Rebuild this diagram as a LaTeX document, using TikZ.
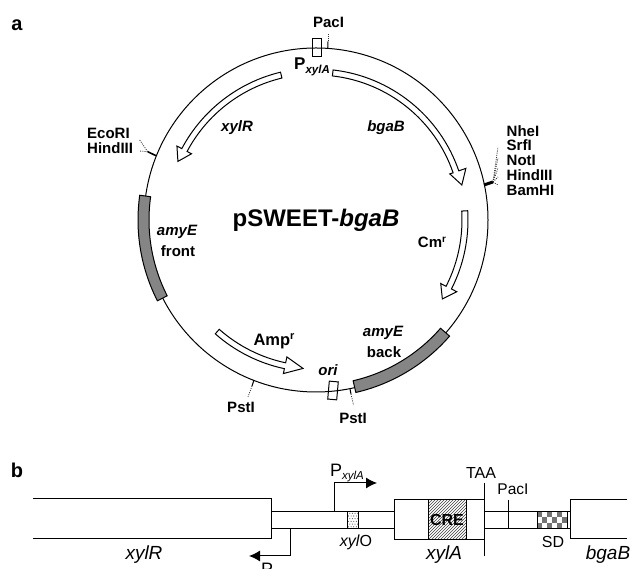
\documentclass[tikz,border=0pt]{standalone}
\usepackage{fontspec}
\setmainfont{Liberation Sans}
\usetikzlibrary{patterns,calc,arrows.meta}
\tikzset{
  x=1pt,y=1pt,
  ln/.style={line width=1pt,black},
  bl/.style={font=\bfseries\fontsize{15}{17}\selectfont,inner sep=0,text=black},
  bi/.style={font=\bfseries\itshape\fontsize{15}{17}\selectfont,inner sep=0,text=black},
  rg/.style={font=\fontsize{16}{18}\selectfont,inner sep=0,text=black},
  dot/.style={line width=0.8pt,dash pattern=on 1pt off 1.2pt,black!80},
  gene/.style={fill=black!48,draw=black,line width=1pt},
  arrowbox/.style={draw=black,fill=white,line width=1pt,line join=miter},
  tip/.style={-{Latex[length=11pt,width=11pt]},line width=1pt}
}
% inner r, outer r, start, end, head angle, wing in, wing out, tip r, tip angle
\newcommand{\genearrow}[9]{%
 \draw[arrowbox] (C)++(#3:#1) arc[start angle=#3,end angle=#5,radius=#1]
   -- ($(C)+(#5:#6)$) -- ($(C)+(#9:#8)$) -- ($(C)+(#5:#7)$) -- ($(C)+(#5:#2)$)
   arc[start angle=#5,end angle=#3,radius=#2] -- cycle;}
\begin{document}
\begin{tikzpicture}
\useasboundingbox (0,0) rectangle (634,569);
\clip (0,0) rectangle (634,569);
\coordinate (C) at (316,349);
\node[font=\bfseries\fontsize{20}{22}\selectfont,inner sep=0] (la) at (17,544) {a};
\node[font=\bfseries\fontsize{20}{22}\selectfont,inner sep=0] (lb) at (17,99) {b};
% plasmid circle
\draw[ln] (C) circle[radius=172];
% amyE segments
\draw[gene] (C)++(172:167) arc[start angle=172,end angle=207,radius=167] -- ($(C)+(207:178)$) arc[start angle=207,end angle=172,radius=178] -- cycle;
\draw[gene] (C)++(-77:165) arc[start angle=-77,end angle=-41,radius=165] -- ($(C)+(-41:177)$) arc[start angle=-41,end angle=-77,radius=177] -- cycle;
% promoter and ori boxes
\draw[ln] (312,512) rectangle (321,530);
\draw[ln,rotate around={-5:(333,178.5)}] (328.5,169.5) rectangle (337.5,187.5);
% gene arrows
\genearrow{145}{151}{83.5}{19}{19}{141.5}{158.5}{150}{13.5}
\genearrow{146}{152}{3.5}{-27}{-27}{140}{158}{149}{-32}
\genearrow{146}{152}{103.5}{152}{152}{141}{157.5}{150}{157}
\genearrow{146}{152}{228.5}{258}{258}{140}{157}{149}{265}
% ticks
\coordinate (t1a) at (327.7,520.3); \coordinate (t1b) at (328,527.5); \coordinate (t1c) at (328,535);
\draw[ln] (t1a)--(t1b); \draw[dot] (t1b)--(t1c);
\coordinate (t2a) at (156,413.3); \coordinate (t2b) at (147.7,417.3);
\draw[line width=1.6pt] (t2a)--(t2b);
\draw[dot] (t2b)--(139,430); \draw[dot] (t2b)--(139,418);
\coordinate (t3a) at (484,384); \coordinate (t3b) at (493,387);
\draw[line width=3pt] (t3a)--(t3b);
\foreach \yy in {422,411,401,392,384} \draw[dot] (t3b)--(498,\yy);
\coordinate (t4a) at (254,189); \coordinate (t4b) at (252,183); \coordinate (t4c) at (248,172);
\draw[ln] (t4a)--(t4b); \draw[dot] (t4b)--(t4c);
\coordinate (t5a) at (350,180); \coordinate (t5b) at (351,175); \coordinate (t5c) at (353.5,164);
\draw[ln] (t5a)--(t5b); \draw[dot] (t5b)--(t5c);
% labels a
\node[bl] (pacitop) at (328.5,547) {PacI};
\node[bl,font=\bfseries\fontsize{17}{19}\selectfont] (pxyl) at (312,502) {P\raisebox{-4pt}{\fontsize{11.5}{13}\selectfont\itshape xylA}};
\node[bi] (nbgab) at (386,441) {bgaB};
\node[bi] (nxylr) at (237,441) {xylR};
\node[bl,anchor=west] (n1) at (506.5,438) {NheI};
\node[bl,anchor=west] (n2) at (506.5,424) {SrfI};
\node[bl,anchor=west] (n3) at (506.5,408.5) {NotI};
\node[bl,anchor=west] (n4) at (506.5,394) {HindIII};
\node[bl,anchor=west] (n5) at (506.5,379) {BamHI};
\node[bl,anchor=west] (e1) at (87,436) {EcoRI};
\node[bl,anchor=west] (e2) at (87,421) {HindIII};
\node[bl,font=\bfseries\fontsize{24}{27}\selectfont] (title) at (316,349) {pSWEET-\textit{bgaB}};
\node[bi] (fr1) at (177,337) {amyE};
\node[bl] (fr2) at (178,318) {front};
\node[bl] (cm) at (432,327) {Cm\raisebox{5pt}{\fontsize{10}{11}\selectfont r}};
\node[bl,font=\bfseries\fontsize{16.5}{19}\selectfont] (amp) at (274,228) {Amp\raisebox{6pt}{\fontsize{11}{12}\selectfont r}};
\node[bi] (ba1) at (383,236) {amyE};
\node[bl] (ba2) at (384,217) {back};
\node[bi] (ori) at (328,199) {ori};
\node[bl] (p1) at (241,162) {PstI};
\node[bl] (p2) at (353,151) {PstI};
% panel b
\draw[ln] (33,70)--(271,70)--(271,30.3)--(33,30.3);
\draw[ln] (271,57.7)--(394,57.7);
\draw[ln] (271,40.7)--(394,40.7);
\draw[ln] (347,40.7) rectangle (358,57.7);
\foreach \i in {0,...,3} \foreach \j in {0,...,5}{
  \fill[black!70] ({348.5+\i*2.6+mod(\j,2)*1.3},{42.2+\j*2.7}) circle[radius=0.55];}
\draw[ln] (394,29.7) rectangle (484,69);
\draw[ln,pattern=north east lines,pattern color=black!75] (428,29.7) rectangle (466.7,69);
\node[font=\bfseries\fontsize{16}{18}\selectfont,inner sep=0] (cre) at (447,49) {CRE};
\draw[ln] (484,13)--(484,86);
\draw[ln] (484,57.7)--(570,57.7);
\draw[ln] (484,40.7)--(570,40.7);
\draw[ln] (508,40.7)--(508,69);
% SD checker
\foreach \i in {0,...,5} \foreach \j in {0,1,2}{
  \pgfmathparse{int(mod(\i+\j,2))}
  \ifnum\pgfmathresult=0 \fill[black!55] ({537+\i*5},{40.7+\j*5.67}) rectangle ({542+\i*5},{46.37+\j*5.67});\fi}
\draw[ln] (537,40.7) rectangle (567,57.7);
\draw[ln] (627,69)--(570,69)--(570,30)--(627,30);
\draw[tip] (334,57.7)--(334,86)--(377,86);
\draw[tip] (290,40.7)--(290,13)--(249,13);
\node[rg,font=\fontsize{18}{20}\selectfont] (pa) at (347,96) {P\raisebox{-3pt}{\fontsize{11.5}{13}\selectfont\itshape xylA}};
\node[rg,anchor=west,font=\fontsize{18}{20}\selectfont] (pr) at (261,-3) {P\raisebox{-3pt}{\fontsize{11.5}{13}\selectfont\itshape xylR}};
\node[rg,font=\itshape\fontsize{19}{21}\selectfont] (gr) at (144,14) {xylR};
\node[rg] (xo) at (356,27) {\textit{xyl}O};
\node[rg,font=\itshape\fontsize{19}{21}\selectfont] (ga) at (444,14) {xylA};
\node[rg] (taa) at (481,96) {TAA};
\node[rg,font=\fontsize{15.5}{17}\selectfont] (pc) at (513,80) {PacI};
\node[rg] (sd) at (553,27) {SD};
\node[rg,font=\itshape\fontsize{19}{21}\selectfont] (gb) at (608,14) {bgaB};
\end{tikzpicture}
\end{document}
